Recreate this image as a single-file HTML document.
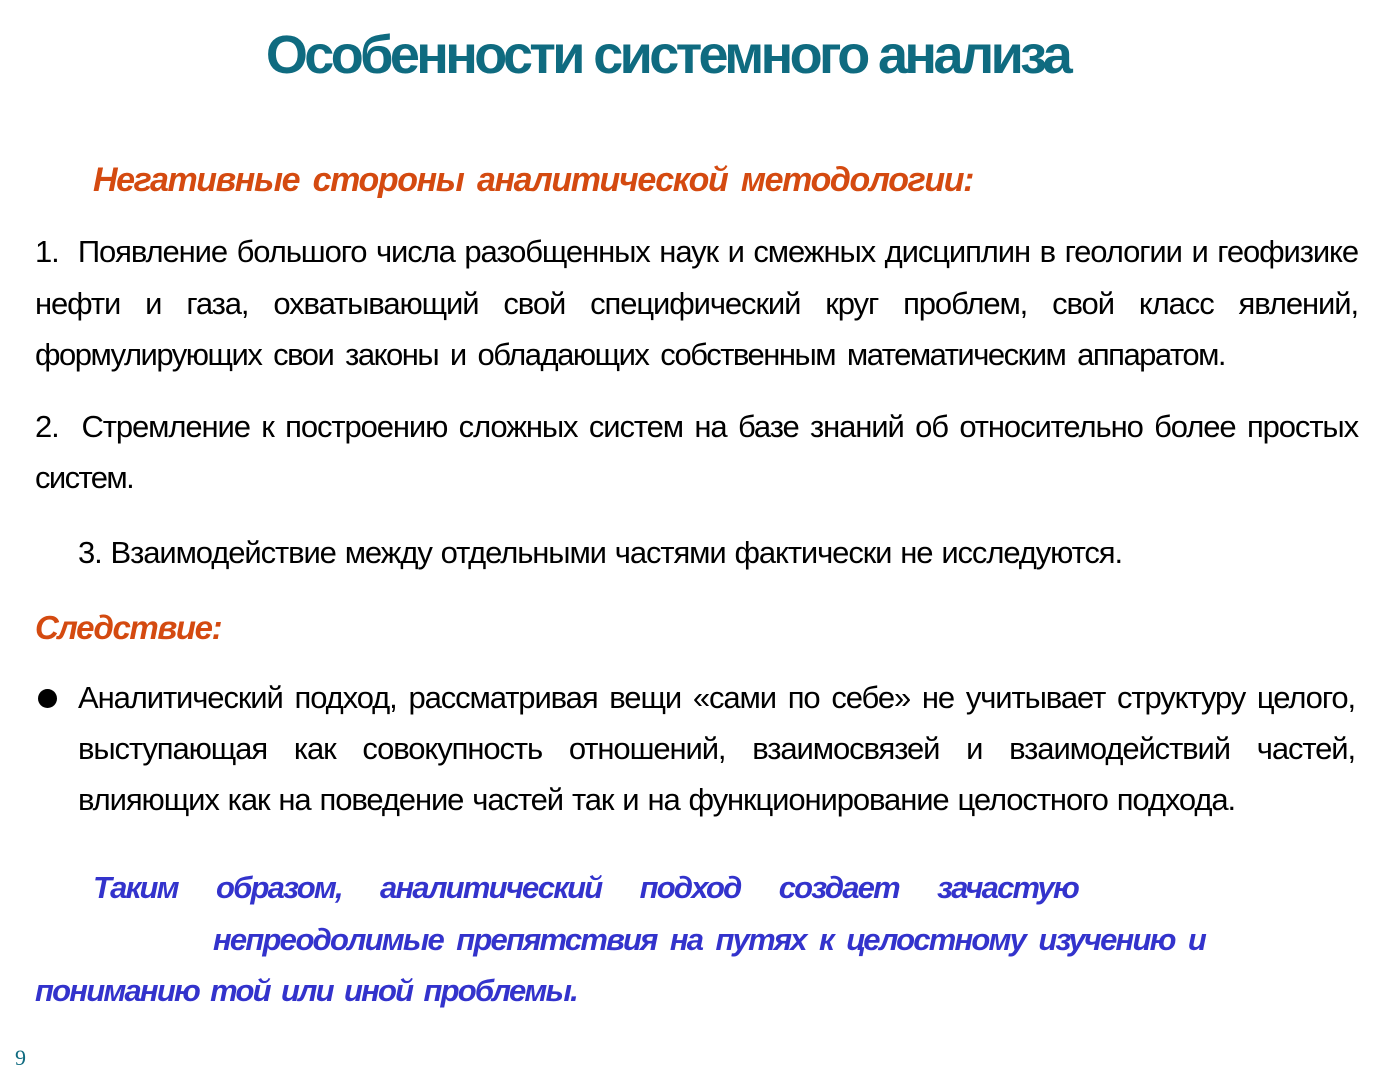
<!DOCTYPE html>
<html><head><meta charset="utf-8"><style>
body{margin:0;width:1375px;height:1083px;background:#fff;position:relative;overflow:hidden;font-family:"Liberation Sans",Arial,sans-serif;}
.l{position:absolute;height:40px;line-height:40px;font-size:31px;letter-spacing:-1.1px;color:#000;text-align:justify;text-align-last:justify;}
.t{position:absolute;left:180px;width:975px;top:22px;font-size:54px;line-height:66px;font-weight:bold;color:#0f6b80;text-align:center;letter-spacing:-3.6px;}
.o{color:#d44a10;font-weight:bold;font-style:italic;letter-spacing:-1.4px;}
.b{color:#3333cc;font-weight:bold;font-style:italic;letter-spacing:-1.8px;}
</style></head><body>
<div class="t">Особенности системного анализа</div>
<div class="l o" style="left:93px;width:880px;top:160px;font-size:34px;">Негативные стороны аналитической методологии:</div>
<div class="l" style="left:35px;width:1323px;top:232px;">1.&nbsp; Появление большого числа разобщенных наук и смежных дисциплин в геологии и геофизике</div>
<div class="l" style="left:35px;width:1323px;top:284px;">нефти и газа, охватывающий свой специфический круг проблем, свой класс явлений,</div>
<div class="l" style="left:35px;width:1190px;top:335px;letter-spacing:-1.5px;">формулирующих свои законы и обладающих собственным математическим аппаратом.</div>
<div class="l" style="left:35px;width:1323px;top:407px;">2.&nbsp; Стремление к построению сложных систем на базе знаний об относительно более простых</div>
<div class="l" style="left:35px;width:110px;top:458px;text-align-last:left;letter-spacing:-1.6px;">систем.</div>
<div class="l" style="left:78px;width:1044px;top:533px;">3. Взаимодействие между отдельными частями фактически не исследуются.</div>
<div class="l o" style="left:35px;width:194px;top:608px;font-size:33px;text-align-last:left;">Следствие:</div>
<div style="position:absolute;left:38px;top:689px;width:19px;height:19px;border-radius:50%;background:#000;"></div>
<div class="l" style="left:78px;width:1277px;top:678px;">Аналитический подход, рассматривая вещи «сами по себе» не учитывает структуру целого,</div>
<div class="l" style="left:78px;width:1277px;top:729px;">выступающая как совокупность отношений, взаимосвязей и взаимодействий частей,</div>
<div class="l" style="left:78px;width:1157px;top:780px;">влияющих как на поведение частей так и на функционирование целостного подхода.</div>
<div class="l b" style="left:93px;width:985px;top:868px;">Таким образом, аналитический подход создает зачастую</div>
<div class="l b" style="left:213px;width:992px;top:920px;">непреодолимые препятствия на путях к целостному изучению и</div>
<div class="l b" style="left:35px;width:542px;top:971px;">пониманию той или иной проблемы.</div>
<div style="position:absolute;left:15px;top:1045px;font-family:'Liberation Serif',serif;font-size:22px;color:#0f6b80;">9</div>
</body></html>
